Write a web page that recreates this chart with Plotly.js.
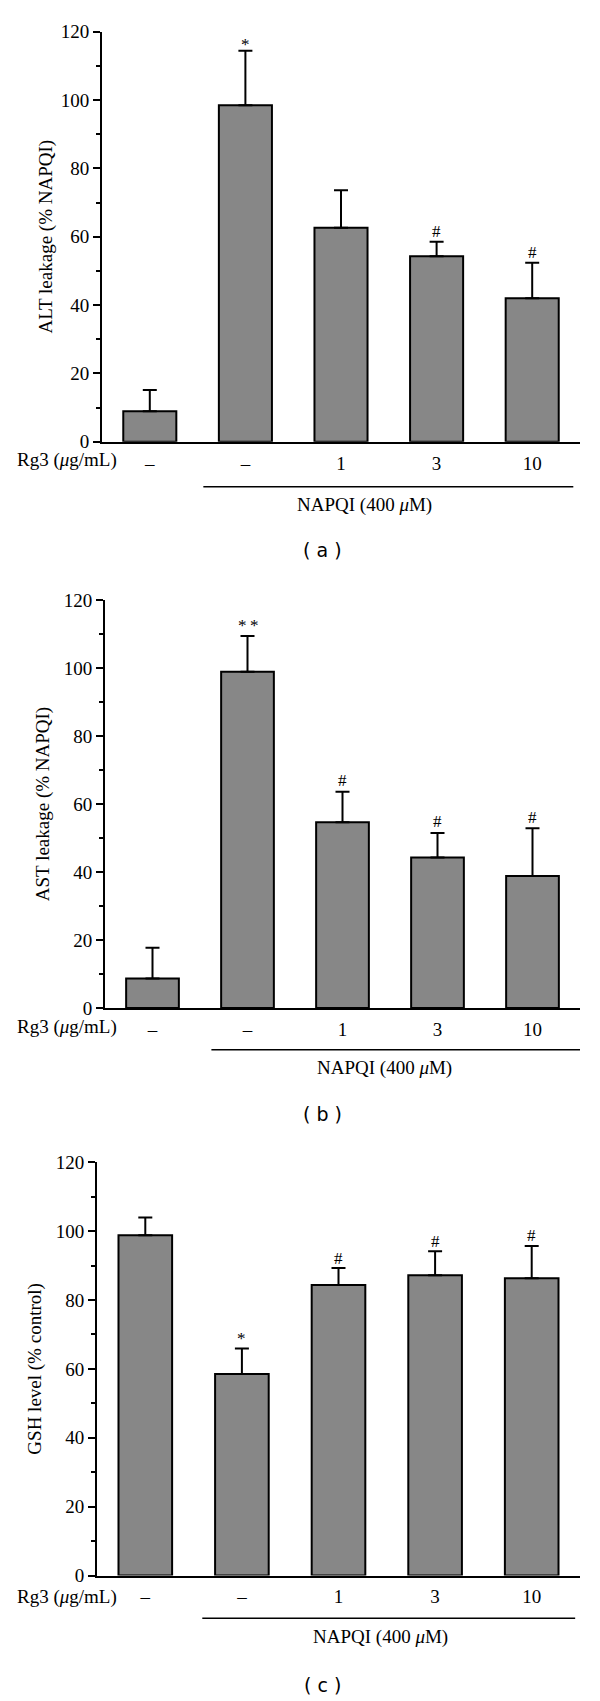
<!DOCTYPE html>
<html>
<head>
<meta charset="utf-8">
<script src="https://cdn.plot.ly/plotly-3.0.1.min.js"></script>
<style>html,body{margin:0;padding:0;background:#fff;}#chart{width:600px;height:1701px;}</style>
</head>
<body>
<div id="chart"></div>
<script>
// ---- data ----
const doseLabels = ['–', '–', '1', '3', '10'];
const groupIndex = [0, 1, 2, 3, 4];

const altMean = [8.9, 98.5, 62.6, 54.3, 42.0];
const altErr  = [6.2, 15.9, 11.0, 4.2, 10.4];
const altSig  = ['', '*', '', '#', '#'];

const astMean = [8.7, 98.9, 54.6, 44.3, 38.8];
const astErr  = [9.0, 10.5, 9.0, 7.2, 14.1];
const astSig  = ['', '*\u2009*', '#', '#', '#'];

const gshMean = [98.8, 58.5, 84.4, 87.2, 86.3];
const gshErr  = [5.2, 7.4, 4.9, 7.0, 9.4];
const gshSig  = ['', '*', '#', '#', '#'];

const yTitles = ['ALT leakage (% NAPQI)', 'AST leakage (% NAPQI)', 'GSH level (% control)'];
const panelTags = ['( a )', '( b )', '( c )'];
const rowLabel = 'Rg3 (<i>μ</i>g/mL)';
const groupLabel = 'NAPQI (400 <i>μ</i>M)';

// ---- layout helpers ----
const H = 1701, W = 600;
const serif = 'Liberation Serif, Times New Roman, serif';
const py = v => 1 - v / H;
const px = v => v / W;

const panels = [
  {mean: altMean, err: altErr, sig: altSig, x0: 102, x1: 580, yTop: 31.7, yBot: 441.7, rowY: 460, lineY: 486.7, lineX: [0.56, 4.43], textX: 364, textY: 505, tagY: 550, titleStand: 3, starShift: 6, hashShift: 10},
  {mean: astMean, err: astErr, sig: astSig, x0: 105, x1: 580, yTop: 600, yBot: 1008, rowY: 1027, lineY: 1049.8, lineX: [0.62, 4.5], textX: 384, textY: 1068, tagY: 1114, titleStand: 9, starShift: 10.5, hashShift: 11},
  {mean: gshMean, err: gshErr, sig: gshSig, x0: 97, x1: 580, yTop: 1162.3, yBot: 1575.5, rowY: 1597, lineY: 1618.3, lineX: [0.59, 4.45], textX: 380, textY: 1637.3, tagY: 1685, titleStand: 9, starShift: 10.5, hashShift: 10}
];

const data = [];
const layout = {
  width: W, height: H,
  margin: {l: 0, r: 0, t: 0, b: 0},
  paper_bgcolor: 'white', plot_bgcolor: 'white',
  showlegend: false,
  annotations: [], shapes: []
};

panels.forEach((p, i) => {
  const n = i === 0 ? '' : String(i + 1);
  const xa = 'x' + n, ya = 'y' + n;
  data.push({
    type: 'bar', x: groupIndex, y: p.mean, xaxis: xa, yaxis: ya,
    width: 0.555,
    marker: {color: '#878787', line: {color: 'black', width: 2}},
    error_y: {type: 'data', symmetric: false, array: p.err, arrayminus: p.err.map(() => 0),
              color: 'black', thickness: 2, width: 7},
    hoverinfo: 'skip'
  });
  layout['xaxis' + n] = {
    domain: [px(p.x0), px(p.x1)], anchor: ya,
    range: [-0.5, 4.5], tickmode: 'array', tickvals: groupIndex, ticktext: doseLabels,
    showline: true, linecolor: 'black', linewidth: 2, ticks: '',
    showgrid: false, zeroline: false, ticklabelstandoff: 3,
    tickfont: {family: serif, size: 19, color: 'black'}, fixedrange: true
  };
  layout['yaxis' + n] = {
    domain: [py(p.yBot), py(p.yTop)], anchor: xa,
    range: [0, 120], tickmode: 'array', tickvals: [0, 20, 40, 60, 80, 100, 120],
    showline: true, linecolor: 'black', linewidth: 2,
    ticks: 'outside', ticklen: 7, tickwidth: 2, tickcolor: 'black',
    minor: {tickmode: 'array', tickvals: [10, 30, 50, 70, 90, 110], ticks: 'outside', ticklen: 4, tickwidth: 2, tickcolor: 'black', showgrid: false},
    showgrid: false, zeroline: false,
    tickfont: {family: serif, size: 19, color: 'black'},
    title: {text: yTitles[i], font: {family: serif, size: 19, color: 'black'}, standoff: p.titleStand},
    fixedrange: true
  };
  // significance markers
  p.sig.forEach((s, k) => {
    if (!s) return;
    layout.annotations.push({
      xref: xa, yref: ya, x: groupIndex[k], y: p.mean[k] + p.err[k],
      text: s, showarrow: false, xanchor: 'center', yanchor: 'middle',
      yshift: s.indexOf('*') >= 0 ? p.starShift : p.hashShift,
      font: {family: serif, size: 17, color: 'black'}
    });
  });
  // row label
  layout.annotations.push({
    xref: 'paper', yref: 'paper', x: px(119), y: py(p.rowY),
    text: rowLabel, showarrow: false, xanchor: 'right', yanchor: 'middle',
    font: {family: serif, size: 19, color: 'black'}
  });
  // group label
  layout.annotations.push({
    xref: 'paper', yref: 'paper', x: px(p.textX), y: py(p.textY),
    text: groupLabel, showarrow: false, xanchor: 'center', yanchor: 'middle',
    font: {family: serif, size: 19, color: 'black'}
  });
  // panel tag
  layout.annotations.push({
    xref: 'paper', yref: 'paper', x: px(322), y: py(p.tagY),
    text: panelTags[i], showarrow: false, xanchor: 'center', yanchor: 'middle',
    font: {family: 'DejaVu Sans, sans-serif', size: 19, color: 'black'}
  });
  // group bracket line
  layout.shapes.push({
    type: 'line', xref: xa, yref: 'paper',
    x0: p.lineX[0], x1: p.lineX[1], y0: py(p.lineY), y1: py(p.lineY),
    line: {color: 'black', width: 1.5}
  });
});

Plotly.newPlot('chart', data, layout, {staticPlot: true, displayModeBar: false});
</script>
</body>
</html>
